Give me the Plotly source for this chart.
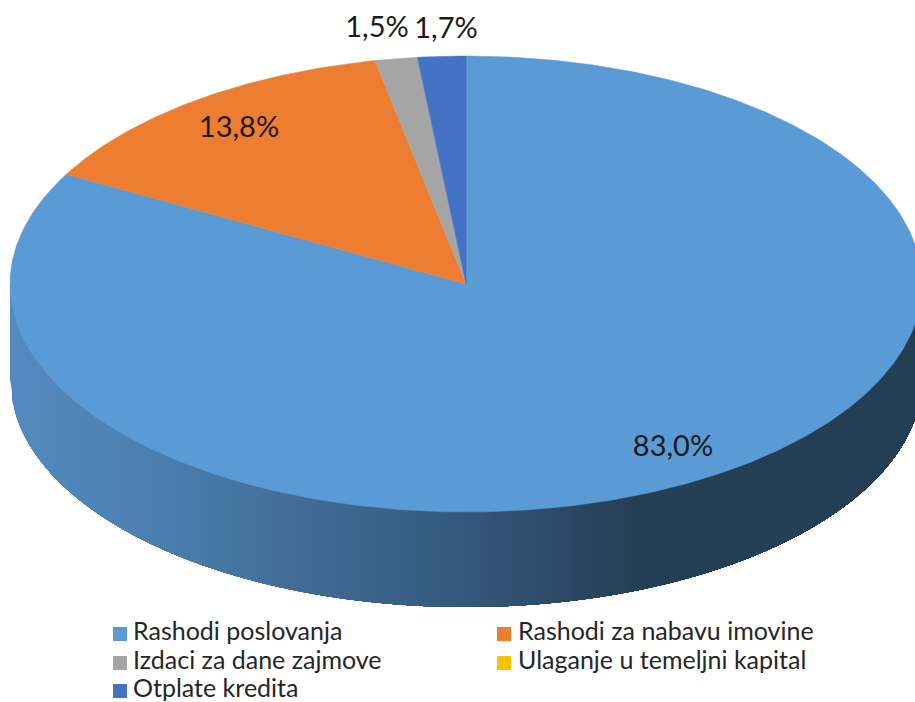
import numpy as np
import plotly.graph_objects as go

categories = ["Rashodi poslovanja", "Rashodi za nabavu imovine", "Izdaci za dane zajmove",
              "Ulaganje u temeljni kapital", "Otplate kredita"]
values = [83.0, 13.8, 1.5, 0.0, 1.7]
value_labels = ["83,0%", "13,8%", "1,5%", "", "1,7%"]
colors = ["#5B9BD5", "#ED7D31", "#A5A5A5", "#FFC000", "#4472C4"]

# layout (pixel frame)
CX, CY, RX, RY, DEPTH = 466, 284, 456, 228, 95
label_x = [673, 239, 377, 0, 446]
label_y = [449, 130, 30, 0, 31]
legend_sq_x = [120, 504, 120, 504, 120]
legend_y = [634, 634, 663, 663, 691]
legend_tx = [133, 518, 133, 518, 133]
rim_stops_x = [10, 150, 300, 466, 560, 640, 922]
rim_stops_rgb = [(84, 138, 190), (76, 128, 176), (66, 108, 150), (52, 88, 124), (44, 74, 102), (36, 62, 84), (36, 62, 84)]

fig = go.Figure()

# rim: nested left-to-right bands, each running to the right end, painted in order
xs = np.arange(10, 641, 2.0)
for x0 in xs:
    xx = np.linspace(x0, CX + RX, 160)
    u = np.clip((xx - CX) / RX, -1, 1)
    top = CY + RY * np.sqrt(1 - u**2)
    px = np.r_[xx, xx[::-1]]
    py = np.r_[top - 2, (top + DEPTH)[::-1]]
    rgb = [np.interp(x0, rim_stops_x, [c[i] for c in rim_stops_rgb]) for i in range(3)]
    col = "rgb(%d,%d,%d)" % tuple(rgb)
    fig.add_trace(go.Scatter(x=px, y=py, mode="lines", fill="toself", fillcolor=col,
                             line=dict(width=0, color=col), hoverinfo="skip", showlegend=False))

# top face: slices run clockwise from 12 o'clock, swept from the values
start = 0.0
total = sum(values)
for name, v, col in zip(categories, values, colors):
    end = start + v / total * 2 * np.pi
    if v > 0:
        t = np.linspace(start, end, max(3, int(v * 6)))
        px = np.r_[CX, CX + RX * np.sin(t), CX]
        py = np.r_[CY, CY - RY * np.cos(t), CY]
        fig.add_trace(go.Scatter(x=px, y=py, mode="lines", fill="toself", fillcolor=col,
                                 line=dict(width=0.5, color=col), name=name, showlegend=False,
                                 hoverinfo="name"))
    start = end

# value labels
lab = [i for i, s in enumerate(value_labels) if s]
fig.add_trace(go.Scatter(x=[label_x[i] for i in lab], y=[label_y[i] for i in lab],
                         text=[value_labels[i] for i in lab], mode="text",
                         textposition="middle center", hoverinfo="skip", showlegend=False,
                         textfont=dict(family="Lato", size=29, color="#1a1a1a")))

# legend
fig.add_trace(go.Scatter(x=legend_sq_x, y=legend_y, mode="markers", hoverinfo="skip", showlegend=False,
                         marker=dict(symbol="square", size=14, color=colors, line=dict(width=0))))
fig.add_trace(go.Scatter(x=legend_tx, y=legend_y, text=categories, mode="text",
                         textposition="middle right", hoverinfo="skip", showlegend=False,
                         textfont=dict(family="Lato", size=25, color="#262626")))

fig.update_layout(width=915, height=702, margin=dict(l=0, r=0, t=0, b=0),
                  paper_bgcolor="white", plot_bgcolor="white", showlegend=False,
                  xaxis=dict(range=[0, 915], visible=False, fixedrange=True),
                  yaxis=dict(range=[702, 0], visible=False, fixedrange=True))
fig.write_html("out.html", config={"displayModeBar": False},
               post_script="document.body.style.margin='0';document.documentElement.style.overflow='hidden';")
